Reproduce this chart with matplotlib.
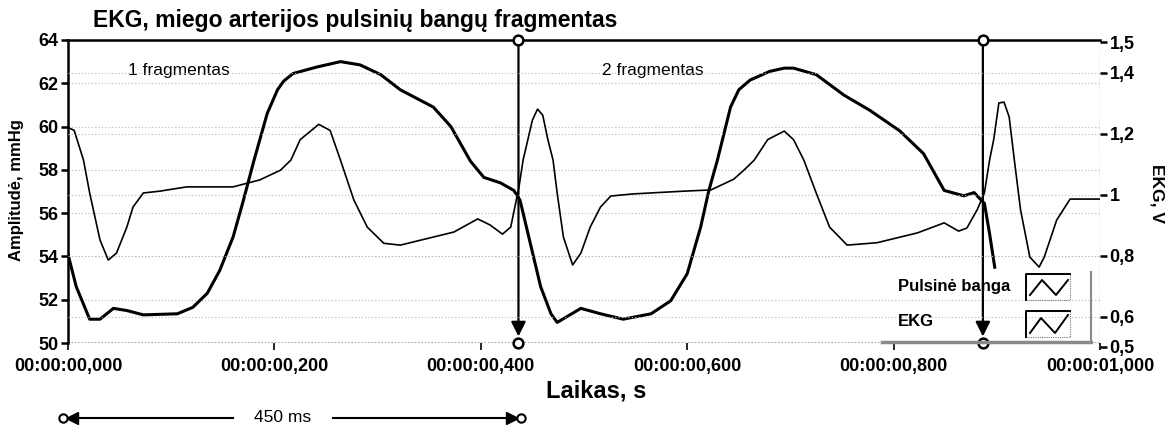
import numpy as np
import matplotlib.pyplot as plt
from matplotlib.patches import Rectangle
from matplotlib.lines import Line2D

plt.rcParams['font.family'] = ['Liberation Sans', 'DejaVu Sans']

##################################################
##                    duomenys                  ##
##################################################

# pulsinė banga, mmHg (kairė ašis)
t_puls = [0.000, 0.008, 0.021, 0.031, 0.044, 0.057, 0.073, 0.106, 0.121, 0.135,
          0.147, 0.160, 0.170, 0.180, 0.193, 0.203, 0.209, 0.218, 0.241, 0.264,
          0.283, 0.303, 0.322, 0.354, 0.371, 0.390, 0.403, 0.419, 0.432, 0.438,
          0.448, 0.458, 0.468, 0.474, 0.497, 0.516, 0.538, 0.565, 0.584, 0.600,
          0.613, 0.621, 0.629, 0.642, 0.650, 0.661, 0.680, 0.694, 0.703, 0.725,
          0.752, 0.777, 0.806, 0.829, 0.849, 0.868, 0.878, 0.888, 0.893, 0.898]
p_puls = [54.1, 52.6, 51.1, 51.1, 51.6, 51.5, 51.3, 51.35, 51.65, 52.3,
          53.35, 54.9, 56.6, 58.4, 60.6, 61.7, 62.1, 62.45, 62.75, 63.0,
          62.85, 62.4, 61.7, 60.9, 60.0, 58.4, 57.65, 57.4, 57.05, 56.6,
          54.6, 52.6, 51.35, 50.95, 51.6, 51.35, 51.1, 51.35, 51.95, 53.2,
          55.35, 57.05, 58.4, 60.9, 61.7, 62.15, 62.55, 62.7, 62.7, 62.4,
          61.45, 60.75, 59.8, 58.75, 57.05, 56.8, 56.95, 56.45, 55.05, 53.5]

# EKG, V (dešinė ašis)
t_ekg = [0.000, 0.006, 0.015, 0.021, 0.031, 0.039, 0.047, 0.057, 0.063, 0.073,
         0.089, 0.115, 0.160, 0.186, 0.206, 0.216, 0.225, 0.243, 0.254, 0.264,
         0.277, 0.290, 0.306, 0.322, 0.374, 0.397, 0.409, 0.421, 0.429, 0.437,
         0.441, 0.450, 0.455, 0.460, 0.465, 0.470, 0.474, 0.480, 0.489, 0.497,
         0.506, 0.516, 0.526, 0.548, 0.597, 0.623, 0.645, 0.655, 0.665, 0.678,
         0.694, 0.703, 0.713, 0.725, 0.738, 0.755, 0.784, 0.823, 0.849, 0.863,
         0.871, 0.881, 0.888, 0.893, 0.897, 0.902, 0.907, 0.912, 0.917, 0.923,
         0.932, 0.941, 0.946, 0.958, 0.971, 1.000]
v_ekg = [1.22, 1.21, 1.113, 1.005, 0.851, 0.785, 0.808, 0.893, 0.959, 1.005,
         1.011, 1.025, 1.025, 1.048, 1.08, 1.113, 1.18, 1.23, 1.21, 1.113,
         0.982, 0.893, 0.84, 0.834, 0.877, 0.92, 0.90, 0.87, 0.893, 1.025,
         1.113, 1.244, 1.28, 1.26, 1.18, 1.113, 1.005, 0.861, 0.769, 0.808,
         0.893, 0.959, 0.995, 1.002, 1.011, 1.015, 1.05, 1.08, 1.113, 1.18,
         1.208, 1.18, 1.113, 1.005, 0.893, 0.834, 0.842, 0.874, 0.907, 0.88,
         0.89, 0.95, 1.005, 1.113, 1.18, 1.30, 1.303, 1.254, 1.113, 0.95,
         0.795, 0.762, 0.795, 0.916, 0.985, 0.985]

x_ticks = [0.0, 0.2, 0.4, 0.6, 0.8, 1.0]
x_labels = ["00:00:00,000", "00:00:00,200", "00:00:00,400",
            "00:00:00,600", "00:00:00,800", "00:00:01,000"]
left_ticks = [50, 52, 54, 56, 58, 60, 62, 64]
right_ticks = [0.5, 0.6, 0.8, 1.0, 1.2, 1.4, 1.5]
right_labels = ["0,5", "0,6", "0,8", "1", "1,2", "1,4", "1,5"]

# fragmentų žymekliai (s)
zymekliai = [0.4365, 0.8865]

##################################################
##                    grafikas                  ##
##################################################

W, H = 1176, 430
fig = plt.figure(figsize=(W / 100, H / 100), dpi=100)

def fx(x):
    return x / W

def fy(y):
    return 1 - y / H

ax = fig.add_axes([fx(68), fy(343), fx(1100) - fx(68), fy(40) - fy(343)])
# dešinė ašis šiek tiek paslinkta, kaip originale
ax2 = fig.add_axes([fx(68), fy(347), fx(1100) - fx(68), fy(42) - fy(347)], sharex=ax)
ax2.patch.set_visible(False)
ax2.yaxis.tick_right()
ax2.xaxis.set_visible(False)

ax.set_xlim(0, 1)
ax.set_ylim(50, 64)
ax2.set_ylim(0.5, 1.5)

grid_kw = dict(color="#b8b8b8", linestyle=(0, (1, 2)), linewidth=0.8)
for y in left_ticks[1:]:
    ax.axhline(y, **grid_kw, zorder=0)
for y in right_ticks[1:-1]:
    ax2.axhline(y, **grid_kw, zorder=0)

ax.plot(t_puls, p_puls, color="black", linewidth=2.2, zorder=3)
ax2.plot(t_ekg, v_ekg, color="black", linewidth=1.2, zorder=3)

# rėmeliai
for a in (ax, ax2):
    for s in a.spines.values():
        s.set_visible(False)
ax.spines["top"].set_visible(True)
ax.spines["left"].set_visible(True)
ax.spines["top"].set_linewidth(1.8)
ax.spines["left"].set_linewidth(1.8)
ax.axhline(50, color="#9a9a9a", linestyle=(0, (1, 1)), linewidth=1.2, zorder=1)
ax.axvline(1.0, color="#9a9a9a", linestyle=(0, (1, 1)), linewidth=1.0, zorder=1)

ax.set_xticks(x_ticks)
ax.set_xticklabels(x_labels, fontsize=13, fontweight="bold")
ax.set_yticks(left_ticks)
ax.set_yticklabels([str(v) for v in left_ticks], fontsize=13, fontweight="bold")
ax2.set_yticks(right_ticks)
ax2.set_yticklabels(right_labels, fontsize=13, fontweight="bold")
ax.tick_params(axis="x", length=5, width=1.2, pad=6, color="black")
ax.tick_params(axis="y", length=5, width=1.8, pad=2)
ax2.tick_params(axis="y", length=5, width=1.8, pad=2)

# fragmentų žymekliai su rodyklėmis
for t in zymekliai:
    ax.annotate("", xy=(t, 50.3), xytext=(t, 64),
                arrowprops=dict(arrowstyle="-|>", color="black", lw=1.6,
                                mutation_scale=22, shrinkA=0, shrinkB=0),
                zorder=5)
    ax.plot([t, t], [64, 50], linestyle="none", marker="o", markersize=7,
            markerfacecolor="white", markeredgecolor="black",
            markeredgewidth=1.8, clip_on=False, zorder=6)

ax.text(0.107, 62.6, "1 fragmentas", fontsize=12.5, ha="center", va="center")
ax.text(0.567, 62.6, "2 fragmentas", fontsize=12.5, ha="center", va="center")

# tekstai
fig.text(fx(93), fy(21), "EKG, miego arterijos pulsinių bangų fragmentas",
         fontsize=16.5, fontweight="bold", ha="left", va="center")
fig.text(fx(596), fy(391), "Laikas, s", fontsize=17, fontweight="bold",
         ha="center", va="center")
fig.text(fx(17), fy(190), "Amplitudė, mmHg", fontsize=12, fontweight="bold",
         rotation=90, ha="center", va="center")
fig.text(fx(1157), fy(193), "EKG, V", fontsize=12.5, fontweight="bold",
         rotation=-90, ha="center", va="center")

# 450 ms rodyklė apačioje
ya = fy(418)
fig.add_artist(Line2D([fx(76), fx(233)], [ya, ya], color="black", lw=1.5))
fig.add_artist(Line2D([fx(333), fx(508)], [ya, ya], color="black", lw=1.5))
fig.add_artist(Line2D([fx(72)], [ya], marker="<", color="black", markersize=9, lw=0))
fig.add_artist(Line2D([fx(512)], [ya], marker=">", color="black", markersize=9, lw=0))
fig.add_artist(Line2D([fx(63), fx(521)], [ya, ya], marker="o", markersize=6,
                      markerfacecolor="white", markeredgecolor="black",
                      markeredgewidth=1.5, lw=0))
fig.text(fx(283), ya, "450 ms", fontsize=12.5, ha="center", va="center")

# legenda
fig.text(fx(898), fy(286), "Pulsinė banga", fontsize=12, fontweight="bold",
         ha="left", va="center")
fig.text(fx(898), fy(322), "EKG", fontsize=12, fontweight="bold",
         ha="left", va="center")
for (top, zig) in [(274, [(1030, 295), (1042, 280), (1056, 295), (1068, 280)]),
                   (311, [(1030, 333), (1041, 318), (1055, 333), (1068, 315)])]:
    fig.add_artist(Rectangle((fx(1026), fy(top + 26)), fx(44), 26 / H,
                             transform=fig.transFigure, fill=False,
                             edgecolor="#777777", lw=0.8, linestyle=(0, (1, 1))))
    fig.add_artist(Line2D([fx(1026), fx(1026), fx(1070)],
                          [fy(top + 26), fy(top), fy(top)], color="black", lw=1.4))
    fig.add_artist(Line2D([fx(p[0]) for p in zig], [fy(p[1]) for p in zig],
                          color="black", lw=1.4))
fig.add_artist(Line2D([fx(882), fx(1091)], [fy(342), fy(342)], color="#8a8a8a", lw=2.5))
fig.add_artist(Line2D([fx(1091), fx(1091)], [fy(272), fy(342)], color="#8a8a8a", lw=1.5))

fig.savefig("out.png", dpi=100)
